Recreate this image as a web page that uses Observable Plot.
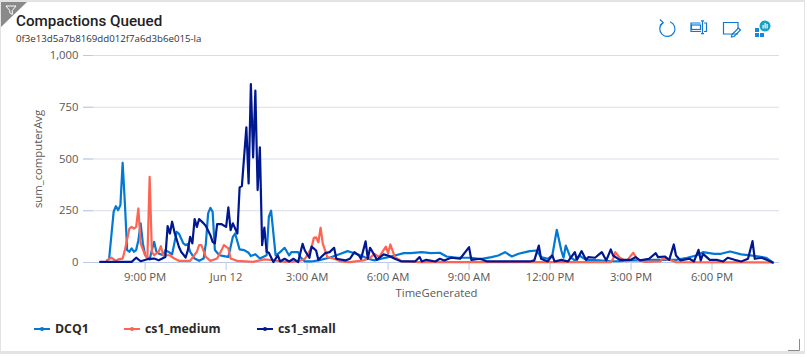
<!DOCTYPE html>
<html><head><meta charset="utf-8">
<script src="https://cdn.jsdelivr.net/npm/d3@7"></script>
<script src="https://cdn.jsdelivr.net/npm/@observablehq/plot@0.6"></script>
<style>
html,body{margin:0;padding:0;background:#fff;overflow:hidden}
#card{position:relative;width:807px;height:357px;font-family:"Open Sans","Noto Sans",sans-serif;color:#222;box-sizing:border-box;overflow:hidden}
#border{position:absolute;left:0;top:0;width:805px;height:354px;border-top:2px solid #e3e3e3;border-left:1px solid #e3e3e3;border-right:1px solid #e3e3e3;border-bottom:3px solid #e3e3e3;box-sizing:border-box;pointer-events:none}
#title{position:absolute;left:16px;top:11px;font-family:Roboto,sans-serif;font-size:15.2px;font-weight:500;line-height:20px;white-space:nowrap}
#sub{position:absolute;left:16px;top:32px;font-size:9.7px;line-height:14px;color:#333;white-space:nowrap}
#chart{position:absolute;left:0;top:45px}
#legend{position:absolute;left:0;top:321px;height:16px;width:807px;font-size:12.3px;font-weight:700;color:#2a2a2a}
#legend span{position:absolute;top:0;line-height:16px;white-space:nowrap}
#legend svg{position:absolute;top:0}
svg.deco{position:absolute}
</style></head><body>
<div id="card">
<div id="border"></div>
<svg class="deco" style="left:0;top:0" width="30" height="30"><path d="M1 2H27L1 27Z" fill="#8a8a8a"/><path d="M6 6H16L12.3 10.5V14.5L9.7 12.6V10.5Z" fill="none" stroke="#fff" stroke-width="1"/></svg>
<div id="title">Compactions Queued</div>
<div id="sub">0f3e13d5a7b8169dd012f7a6d3b6e015-la</div>
<div id="chart"></div>
<div id="legend"></div>
<svg class="deco" style="left:655px;top:15px" width="130" height="30" fill="none" stroke="#0f78d4" stroke-width="1.2">
<path d="M8 7.6A7.6 7.6 0 1 0 15 6.7"/><path d="M5 4.5L8.2 7.7L5.3 10.5"/>
<rect x="36.5" y="10" width="9" height="4.5"/><path d="M45.5 8H36V16.5H46M49 8H51.5V16.5H49M47.5 6V18.5M46 5.8H49M46 18.7H49"/>
<path d="M83 19H68.5V7.5H83V14"/><path d="M77 19.5L83.5 13L85.5 15L79 21.5L76.5 22Z"/>
<g stroke="none"><rect x="100" y="13" width="4" height="4" fill="#1a86d8"/><rect x="100" y="18" width="4" height="4" fill="#1a86d8"/><rect x="105" y="18" width="4" height="4" fill="#1a86d8"/><circle cx="110" cy="11" r="5.5" fill="#17a3c6"/><rect x="107.5" y="10" width="1.2" height="3.5" fill="#fff"/><rect x="109.5" y="8" width="1.2" height="5.5" fill="#fff"/><rect x="111.5" y="9" width="1.2" height="4.5" fill="#fff"/></g>
</svg>
<svg class="deco" style="left:785px;top:336px" width="16" height="16" fill="none" stroke="#8a8a8a" stroke-width="1"><path d="M14.5 3V14.5H3"/></svg>
</div>
<script>
const seriesNames = ["DCQ1", "cs1_medium", "cs1_small"];
const seriesColors = ["#0078d4", "#ff6352", "#00188f"];
// minutes after 7:00 PM Jun 11
const dcq1Minutes = [40,50,55,60,65,70,75,80,85,90,95,100,105,110,115,120,130,135,140,145,150,160,165,175,180,190,195,205,210,215,220,230,240,250,255,260,265,270,275,285,295,305,315,320,330,340,350,355,365,375,390,395,400,410,420,430,440,445,460,465,475,490,505,520,530,550,570,585,600,615,630,645,660,675,695,710,735,755,775,790,815,845,865,890,905,920,935,950,965,975,990,1000,1015,1025,1035,1045,1050,1055,1065,1075,1085,1100,1130,1155,1175,1200,1220,1250,1270,1300,1325,1345,1360,1385,1400,1420,1445,1465,1485,1500,1515];
const dcq1Values = [19,245,272,253,277,482,285,60,52,68,52,60,108,189,92,35,15,60,100,52,44,35,60,47,40,148,140,92,84,89,52,19,8,19,92,237,264,245,60,35,31,27,124,140,63,60,47,31,40,19,35,221,250,34,50,71,34,50,50,26,5,5,10,18,23,39,55,45,34,18,10,18,26,34,45,45,50,45,47,29,23,23,16,26,34,50,29,42,50,55,58,26,18,34,158,58,23,82,26,10,34,13,10,6,6,10,10,13,13,13,23,34,50,42,42,53,39,34,29,23,0];
const mediumMinutes = [35,45,55,60,70,75,85,90,95,100,105,110,120,125,130,135,140,150,155,160,175,185,195,220,235,240,245,255,265,280,290,295,305,310,325,360,385,405,430,460,475,480,490,495,500,505,510,515,525,540,555,575,605,620,630,640,655,660,665,675,690,730,1155,1160,1165,1175,1190,1200,1205,1215,1230,1265,1270,1285,1300,1515];
const mediumValues = [11,23,8,15,19,60,164,172,164,172,261,92,35,19,414,52,35,52,79,35,35,19,8,8,52,84,84,27,8,19,60,84,68,19,8,3,15,11,3,5,18,34,74,119,122,98,168,90,26,18,5,2,10,23,42,26,77,45,87,26,6,2,2,18,50,23,5,34,47,13,3,5,19,13,2,0];
const smallMinutes = [20,90,100,110,125,140,150,165,170,175,180,185,195,200,210,215,220,225,230,235,240,250,255,265,270,275,280,290,300,305,310,315,325,330,335,345,350,355,360,365,370,375,380,385,390,395,405,415,420,430,440,450,460,470,475,485,490,500,505,520,530,540,545,565,575,585,595,600,610,615,620,630,635,650,660,675,690,720,730,735,745,765,775,785,800,820,840,845,865,880,920,975,985,995,1000,1015,1025,1030,1045,1060,1075,1080,1090,1100,1105,1120,1135,1145,1155,1160,1175,1200,1210,1220,1240,1255,1260,1275,1285,1295,1300,1310,1330,1340,1350,1355,1360,1375,1390,1405,1415,1430,1445,1460,1470,1475,1490,1505,1515];
const smallValues = [3,3,23,6,16,19,11,27,176,140,197,148,76,52,24,60,124,92,210,172,210,189,176,132,100,92,185,185,172,266,156,189,140,363,369,653,382,862,508,830,350,556,84,169,52,47,2,34,5,18,5,18,2,90,58,23,77,58,13,45,50,71,18,10,18,50,34,18,102,18,71,34,13,39,34,18,5,5,26,5,13,5,18,10,23,18,74,13,18,5,5,5,10,82,18,5,34,5,13,5,50,13,55,13,26,23,50,10,63,34,13,13,26,10,18,45,26,29,13,87,34,10,18,5,61,10,42,13,13,5,23,13,5,18,103,18,23,10,0];
const tickMinutes = [120,300,480,660,840,1020,1200,1380];
const tickLabels = ["9:00 PM","Jun 12","3:00 AM","6:00 AM","9:00 AM","12:00 PM","3:00 PM","6:00 PM"];
const yTicks = [0,250,500,750,1000];

const t0 = Date.UTC(2024,5,11,19,0);
const toDate = m => new Date(t0 + m*60000);
const rows = (name, ms, vs) => ms.map((m,i) => ({series:name, time:toDate(m), value:vs[i]}));
const data = [
  ...rows(seriesNames[0], dcq1Minutes, dcq1Values),
  ...rows(seriesNames[1], mediumMinutes, mediumValues),
  ...rows(seriesNames[2], smallMinutes, smallValues)
];
const xDomain = [toDate(-17), toDate(1530)];
const tickDates = tickMinutes.map(toDate);
const labelOf = new Map(tickDates.map((d,i) => [+d, tickLabels[i]]));
const axisBlue = "#b9c9e6", gridGray = "#d9dce6", textGray = "#595959";

const plot = Plot.plot({
  width: 807, height: 260,
  marginLeft: 83, marginRight: 28, marginTop: 10, marginBottom: 43,
  style: {fontFamily: '"Open Sans","Noto Sans",sans-serif', fontSize: "11.3px", background: "transparent", overflow: "visible"},
  x: {type: "utc", domain: xDomain},
  y: {domain: [0,1000]},
  color: {domain: seriesNames, range: seriesColors},
  marks: [
    Plot.ruleY(yTicks.slice(1), {stroke: gridGray, strokeWidth: 1}),
    Plot.ruleY(yTicks, {x1: toDate(-17), x2: toDate(5), stroke: axisBlue, strokeWidth: 1}),
    Plot.ruleY([0], {stroke: axisBlue, strokeWidth: 1}),
    Plot.axisY({ticks: yTicks, tickSize: 0, tickPadding: 5, label: null, color: textGray, tickFormat: d3.format(",")}),
    Plot.axisX({ticks: tickDates, tickSize: 8, tickPadding: 2, label: null, color: textGray, stroke: axisBlue, tickFormat: d => labelOf.get(+d)}),
    Plot.line(data, {x: "time", y: "value", z: "series", stroke: "series", strokeWidth: 2.2, strokeLinejoin: "round", curve: "linear"}),
    Plot.text(["TimeGenerated"], {frameAnchor: "bottom", dy: 34, dx: 5, fill: textGray, fontSize: 11.3}),
    Plot.text(["sum_computerAvg"], {frameAnchor: "left", textAnchor: "middle", rotate: -90, dx: -45, dy: 0, fill: textGray, fontSize: 11.3})
  ]
});
document.getElementById("chart").appendChild(plot);

const legend = document.getElementById("legend");
const swatchX = [34,124,257], textX = [55,145,278];
seriesNames.forEach((n,i) => {
  const s = document.createElementNS("http://www.w3.org/2000/svg","svg");
  s.setAttribute("width",18); s.setAttribute("height",16);
  s.style.left = swatchX[i]+"px";
  s.innerHTML = `<line x1="0" x2="16" y1="8" y2="8" stroke="${seriesColors[i]}" stroke-width="2"/><circle cx="8" cy="8" r="2" fill="${seriesColors[i]}"/>`;
  legend.appendChild(s);
  const t = document.createElement("span");
  t.textContent = n; t.style.left = textX[i]+"px";
  legend.appendChild(t);
});
</script>
</body></html>
